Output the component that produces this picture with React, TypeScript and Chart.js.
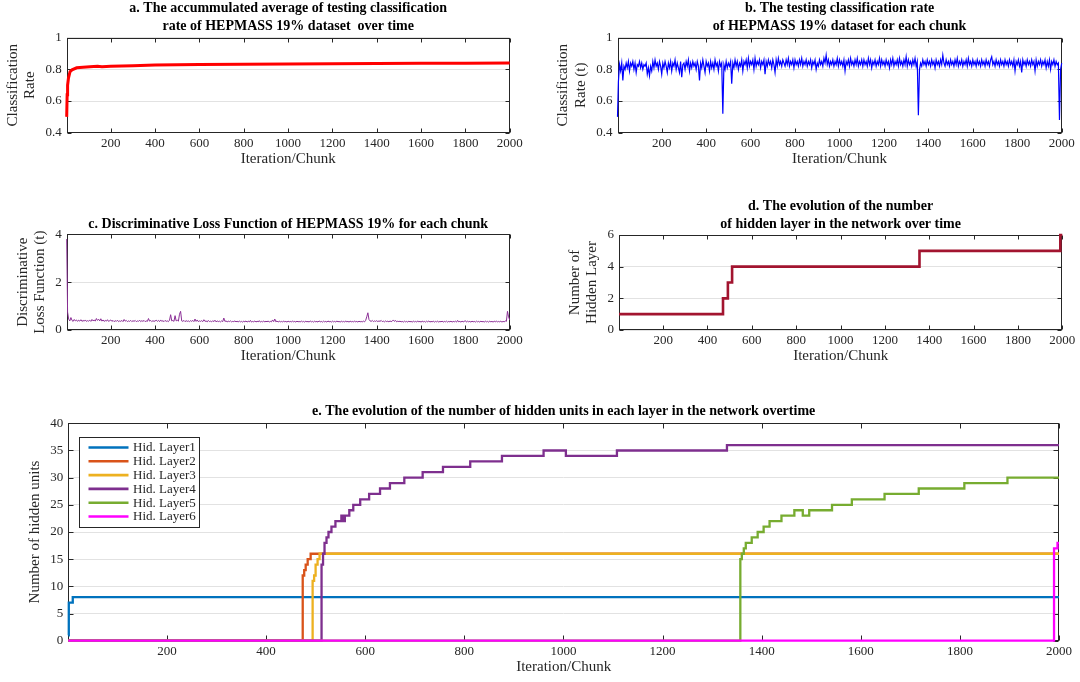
import React, { useEffect, useRef } from "react";
import { Chart, registerables } from "chart.js";

Chart.register(...registerables);

const FONT = "'Liberation Serif', 'Times New Roman', serif";
const INK = "#262626";
const GRID = "#e2e2e2";

// ---------- shared axis ticks ----------
const xTickValues = [200, 400, 600, 800, 1000, 1200, 1400, 1600, 1800, 2000];
const rateTicks = [0.4, 0.6, 0.8, 1];
const lossTicks = [0, 2, 4];
const layerTicks = [0, 2, 4, 6];
const unitTicks = [0, 5, 10, 15, 20, 25, 30, 35, 40];

// ---------- panel a: accumulated average classification rate ----------
const aChunks = [1, 3, 5, 9, 16, 25, 46, 75, 106, 140, 160, 200, 300, 400, 600, 800, 1000, 1200, 1400, 1600, 1800, 2000];
const aRate = [0.5, 0.64, 0.7, 0.745, 0.785, 0.797, 0.81, 0.814, 0.817, 0.819, 0.816, 0.819, 0.823, 0.827, 0.83, 0.832, 0.834, 0.836, 0.837, 0.838, 0.839, 0.84];

// ---------- panel b: testing classification rate per chunk (chunk 1, then every 5 chunks) ----------
const bFirstRate = 0.5;
const bChunkStep = 5;
const bRate = [
  0.72, 0.83, 0.79, 0.84, 0.73, 0.82, 0.80, 0.84, 0.81, 0.85,
  0.79, 0.84, 0.82, 0.85, 0.80, 0.84, 0.78, 0.83, 0.82, 0.85,
  0.81, 0.84, 0.80, 0.83, 0.82, 0.84, 0.77, 0.81, 0.76, 0.82,
  0.79, 0.85, 0.81, 0.86, 0.82, 0.84, 0.80, 0.85, 0.82, 0.77,
  0.84, 0.81, 0.85, 0.82, 0.78, 0.84, 0.81, 0.85, 0.79, 0.84,
  0.82, 0.86, 0.80, 0.84, 0.81, 0.78, 0.85, 0.75, 0.83, 0.84,
  0.80, 0.85, 0.82, 0.86, 0.79, 0.84, 0.81, 0.85, 0.82, 0.84,
  0.80, 0.85, 0.82, 0.73, 0.84, 0.81, 0.86, 0.82, 0.78, 0.85,
  0.82, 0.84, 0.79, 0.85, 0.81, 0.84, 0.80, 0.86, 0.82, 0.84,
  0.79, 0.85, 0.82, 0.84, 0.52, 0.83, 0.80, 0.85, 0.81, 0.84,
  0.82, 0.85, 0.71, 0.84, 0.81, 0.86, 0.82, 0.85, 0.80, 0.84,
  0.82, 0.86, 0.79, 0.85, 0.83, 0.86, 0.81, 0.87, 0.82, 0.85,
  0.83, 0.86, 0.80, 0.87, 0.82, 0.85, 0.83, 0.86, 0.81, 0.85,
  0.83, 0.86, 0.77, 0.85, 0.82, 0.86, 0.83, 0.85, 0.81, 0.86,
  0.83, 0.78, 0.86, 0.82, 0.87, 0.83, 0.85, 0.82, 0.86, 0.84,
  0.82, 0.86, 0.83, 0.87, 0.82, 0.85, 0.83, 0.86, 0.81, 0.86,
  0.83, 0.85, 0.82, 0.86, 0.83, 0.87, 0.82, 0.85, 0.83, 0.86,
  0.82, 0.85, 0.83, 0.86, 0.81, 0.85, 0.83, 0.86, 0.80, 0.84,
  0.82, 0.86, 0.83, 0.85, 0.82, 0.87, 0.84, 0.89, 0.83, 0.86,
  0.82, 0.85, 0.83, 0.86, 0.82, 0.85, 0.83, 0.87, 0.82, 0.86,
  0.83, 0.85, 0.82, 0.86, 0.79, 0.85, 0.83, 0.86, 0.82, 0.87,
  0.83, 0.85, 0.82, 0.86, 0.83, 0.87, 0.82, 0.85, 0.83, 0.86,
  0.82, 0.86, 0.83, 0.85, 0.82, 0.87, 0.83, 0.86, 0.81, 0.85,
  0.83, 0.86, 0.82, 0.85, 0.83, 0.87, 0.82, 0.86, 0.83, 0.85,
  0.82, 0.86, 0.83, 0.85, 0.81, 0.86, 0.83, 0.87, 0.82, 0.85,
  0.83, 0.86, 0.82, 0.87, 0.83, 0.85, 0.82, 0.86, 0.83, 0.88,
  0.82, 0.86, 0.83, 0.85, 0.82, 0.86, 0.83, 0.87, 0.82, 0.85,
  0.51, 0.80, 0.84, 0.82, 0.86, 0.83, 0.85, 0.82, 0.86, 0.83,
  0.85, 0.82, 0.86, 0.83, 0.85, 0.81, 0.86, 0.83, 0.85, 0.82,
  0.86, 0.83, 0.89, 0.84, 0.82, 0.86, 0.83, 0.85, 0.82, 0.86,
  0.83, 0.85, 0.82, 0.86, 0.83, 0.87, 0.82, 0.85, 0.83, 0.86,
  0.82, 0.85, 0.83, 0.86, 0.82, 0.87, 0.83, 0.85, 0.82, 0.86,
  0.83, 0.85, 0.82, 0.86, 0.83, 0.85, 0.82, 0.86, 0.83, 0.85,
  0.82, 0.86, 0.83, 0.85, 0.82, 0.86, 0.88, 0.83, 0.85, 0.82,
  0.86, 0.83, 0.85, 0.82, 0.86, 0.83, 0.85, 0.82, 0.86, 0.83,
  0.85, 0.82, 0.86, 0.83, 0.85, 0.82, 0.86, 0.79, 0.85, 0.83,
  0.86, 0.82, 0.85, 0.78, 0.86, 0.83, 0.85, 0.82, 0.86, 0.83,
  0.85, 0.82, 0.86, 0.83, 0.85, 0.79, 0.86, 0.82, 0.85, 0.83,
  0.86, 0.82, 0.85, 0.83, 0.86, 0.81, 0.85, 0.82, 0.86, 0.80,
  0.85, 0.83, 0.86, 0.82, 0.85, 0.83, 0.84, 0.48, 0.80, 0.84,
];

// ---------- panel c: discriminative loss per chunk (chunk 1, then every 5 chunks) ----------
const cFirstLoss = 3.8;
const cChunkStep = 5;
const cLoss = [
  0.75, 0.45, 0.38, 0.52, 0.40, 0.36, 0.44, 0.38, 0.42, 0.36,
  0.41, 0.37, 0.43, 0.36, 0.40, 0.37, 0.42, 0.36, 0.39, 0.37,
  0.41, 0.36, 0.44, 0.38, 0.42, 0.37, 0.48, 0.40, 0.45, 0.38,
  0.47, 0.37, 0.42, 0.36, 0.40, 0.37, 0.43, 0.36, 0.39, 0.42,
  0.36, 0.40, 0.35, 0.39, 0.36, 0.41, 0.35, 0.38, 0.36, 0.40,
  0.35, 0.44, 0.37, 0.40, 0.35, 0.38, 0.36, 0.40, 0.35, 0.39,
  0.36, 0.40, 0.35, 0.38, 0.36, 0.41, 0.35, 0.39, 0.36, 0.40,
  0.35, 0.38, 0.36, 0.48, 0.37, 0.40, 0.35, 0.39, 0.36, 0.38,
  0.41, 0.36, 0.40, 0.35, 0.42, 0.36, 0.39, 0.35, 0.40, 0.36,
  0.38, 0.35, 0.41, 0.64, 0.38, 0.40, 0.36, 0.60, 0.38, 0.41,
  0.37, 0.66, 0.78, 0.38, 0.36, 0.40, 0.35, 0.39, 0.36, 0.38,
  0.35, 0.39, 0.36, 0.40, 0.35, 0.46, 0.36, 0.42, 0.35, 0.38,
  0.36, 0.39, 0.35, 0.43, 0.36, 0.38, 0.34, 0.40, 0.35, 0.37,
  0.34, 0.39, 0.35, 0.41, 0.34, 0.38, 0.35, 0.37, 0.34, 0.38,
  0.35, 0.50, 0.36, 0.38, 0.34, 0.37, 0.35, 0.38, 0.34, 0.36,
  0.35, 0.38, 0.34, 0.37, 0.33, 0.38, 0.34, 0.36, 0.33, 0.37,
  0.34, 0.38, 0.33, 0.37, 0.34, 0.40, 0.33, 0.36, 0.34, 0.38,
  0.33, 0.37, 0.34, 0.39, 0.33, 0.36, 0.34, 0.38, 0.33, 0.37,
  0.34, 0.38, 0.33, 0.36, 0.34, 0.42, 0.35, 0.46, 0.34, 0.38,
  0.33, 0.37, 0.34, 0.36, 0.33, 0.38, 0.34, 0.36, 0.33, 0.37,
  0.34, 0.36, 0.33, 0.38, 0.34, 0.36, 0.33, 0.37, 0.34, 0.36,
  0.33, 0.38, 0.34, 0.36, 0.33, 0.37, 0.34, 0.36, 0.33, 0.38,
  0.34, 0.36, 0.33, 0.37, 0.34, 0.36, 0.33, 0.38, 0.34, 0.36,
  0.33, 0.37, 0.34, 0.36, 0.33, 0.38, 0.34, 0.36, 0.33, 0.37,
  0.34, 0.36, 0.33, 0.38, 0.34, 0.36, 0.33, 0.37, 0.34, 0.36,
  0.33, 0.38, 0.34, 0.36, 0.33, 0.37, 0.34, 0.36, 0.33, 0.38,
  0.34, 0.36, 0.33, 0.37, 0.34, 0.36, 0.33, 0.38, 0.34, 0.40,
  0.55, 0.72, 0.44, 0.38, 0.36, 0.40, 0.35, 0.38, 0.36, 0.39,
  0.35, 0.38, 0.36, 0.40, 0.35, 0.37, 0.34, 0.38, 0.35, 0.37,
  0.34, 0.38, 0.35, 0.37, 0.42, 0.36, 0.40, 0.34, 0.37, 0.35,
  0.37, 0.34, 0.36, 0.33, 0.37, 0.34, 0.36, 0.33, 0.37, 0.34,
  0.36, 0.33, 0.37, 0.34, 0.36, 0.33, 0.38, 0.34, 0.36, 0.33,
  0.37, 0.34, 0.36, 0.33, 0.37, 0.34, 0.38, 0.33, 0.36, 0.34,
  0.37, 0.33, 0.36, 0.34, 0.37, 0.33, 0.36, 0.34, 0.37, 0.33,
  0.36, 0.34, 0.37, 0.33, 0.36, 0.34, 0.37, 0.33, 0.36, 0.34,
  0.37, 0.33, 0.40, 0.34, 0.36, 0.33, 0.37, 0.34, 0.36, 0.39,
  0.33, 0.37, 0.34, 0.36, 0.33, 0.37, 0.34, 0.36, 0.33, 0.37,
  0.34, 0.36, 0.33, 0.37, 0.34, 0.36, 0.33, 0.37, 0.34, 0.36,
  0.33, 0.37, 0.34, 0.36, 0.33, 0.37, 0.34, 0.38, 0.33, 0.36,
  0.34, 0.37, 0.33, 0.36, 0.34, 0.38, 0.36, 0.78, 0.55, 0.42,
];

// ---------- panel d: number of hidden layers (value holds from chunk until next change) ----------
const dChunks = [1, 470, 492, 511, 1356, 1991, 2000];
const dLayers = [1, 2, 3, 4, 5, 6, 6];

// ---------- panel e: hidden units per layer (value holds from chunk until next change) ----------
const eLabels = ["Hid. Layer1", "Hid. Layer2", "Hid. Layer3", "Hid. Layer4", "Hid. Layer5", "Hid. Layer6"];
const eColors = ["#0072BD", "#D95319", "#EDB120", "#7E2F8E", "#77AC30", "#FF00FF"];
const l1Chunks = [1, 2, 10, 2000];
const l1Units = [1, 7, 8, 8];
const l2Chunks = [1, 474, 477, 480, 484, 490, 2000];
const l2Units = [0, 12, 13, 14, 15, 16, 16];
const l3Chunks = [1, 494, 497, 500, 504, 508, 2000];
const l3Units = [0, 11, 12, 14, 15, 16, 16];
const l4Chunks = [1, 512, 515, 518, 522, 526, 532, 540, 552, 556, 559, 568, 576, 590, 608, 630, 650, 679, 716, 757, 812, 876, 960, 1005, 1108, 1330, 2000];
const l4Units = [0, 14, 16, 18, 19, 20, 21, 22, 23, 22, 23, 24, 25, 26, 27, 28, 29, 30, 31, 32, 33, 34, 35, 34, 35, 36, 36];
const l5Chunks = [1, 1357, 1360, 1364, 1368, 1380, 1392, 1404, 1416, 1440, 1466, 1483, 1496, 1542, 1582, 1648, 1717, 1809, 1896, 2000];
const l5Units = [0, 15, 16, 17, 18, 19, 20, 21, 22, 23, 24, 23, 24, 25, 26, 27, 28, 29, 30, 30];
const l6Chunks = [1, 1990, 1997, 2000];
const l6Units = [0, 17, 18, 18];

const eSeriesChunks = [l1Chunks, l2Chunks, l3Chunks, l4Chunks, l5Chunks, l6Chunks];
const eSeriesUnits = [l1Units, l2Units, l3Units, l4Units, l5Units, l6Units];

// ---------- helpers ----------
const pairs = (xs: number[], ys: number[]) => xs.map((x, i) => ({ x, y: ys[i] }));
const evenPairs = (first: number, step: number, ys: number[]) => [
  { x: 1, y: first },
  ...ys.map((y, i) => ({ x: (i + 1) * step, y })),
];

const boxPlugin = {
  id: "matlabBox",
  beforeDatasetsDraw(chart: any, _args: any, opts: any) {
    const { ctx, chartArea } = chart;
    const { left, right, top, bottom } = chartArea;
    const tl = opts.tickLength ?? 4;
    ctx.save();
    ctx.strokeStyle = INK;
    ctx.lineWidth = 1;
    const L = Math.round(left) + 0.5;
    const R = Math.round(right) - 0.5;
    const T = Math.round(top) + 0.5;
    const B = Math.round(bottom) - 0.5;
    ctx.strokeRect(L, T, R - L, B - T);
    ctx.beginPath();
    const xs = chart.scales.x;
    xs.ticks.forEach((t: any) => {
      const px = Math.round(xs.getPixelForValue(t.value)) + 0.5;
      ctx.moveTo(px, B);
      ctx.lineTo(px, B - tl);
      ctx.moveTo(px, T);
      ctx.lineTo(px, T + tl);
    });
    const ys = chart.scales.y;
    ys.ticks.forEach((t: any) => {
      const py = Math.round(ys.getPixelForValue(t.value)) + 0.5;
      ctx.moveTo(L, py);
      ctx.lineTo(L + tl, py);
      ctx.moveTo(R, py);
      ctx.lineTo(R - tl, py);
    });
    ctx.stroke();
    ctx.restore();
  },
};

const legendBoxPlugin = {
  id: "legendBox",
  afterDatasetsDraw(chart: any, _args: any, opts: any) {
    if (!opts || !opts.show) return;
    const { ctx, chartArea } = chart;
    const x = Math.round(chartArea.left + 11) + 0.5;
    const y = Math.round(chartArea.top + 14) + 0.5;
    const w = 120;
    const h = 90;
    ctx.save();
    ctx.fillStyle = "#ffffff";
    ctx.fillRect(x, y, w, h);
    ctx.strokeStyle = INK;
    ctx.lineWidth = 1;
    ctx.strokeRect(x, y, w, h);
    ctx.font = `13px ${FONT}`;
    ctx.textBaseline = "middle";
    ctx.textAlign = "left";
    chart.data.datasets.forEach((ds: any, i: number) => {
      const cy = y + 10 + i * 13.8;
      ctx.strokeStyle = ds.borderColor;
      ctx.lineWidth = 2.6;
      ctx.beginPath();
      ctx.moveTo(x + 9, cy);
      ctx.lineTo(x + 49, cy);
      ctx.stroke();
      ctx.fillStyle = INK;
      ctx.fillText(ds.label, x + 53.5, cy + 0.5);
    });
    ctx.restore();
  },
};

type PanelCfg = {
  datasets: any[];
  title: string | string[];
  titlePad: { top: number; bottom: number };
  yMin: number;
  yMax: number;
  yTicks: number[];
  yTitle: string | string[];
  yTitlePad: number;
  yWidth: number;
  xHeight: number;
  xTickPad: number;
  xTitlePad: number;
  padRight: number;
  tickLength: number;
  legend?: boolean;
};

function makeConfig(c: PanelCfg): any {
  return {
    type: "line",
    data: { datasets: c.datasets },
    plugins: [boxPlugin, legendBoxPlugin],
    options: {
      responsive: false,
      animation: false,
      devicePixelRatio: 1,
      layout: { padding: { left: 0, right: c.padRight, top: 0, bottom: 0 } },
      elements: { point: { radius: 0 }, line: { tension: 0 } },
      plugins: {
        legend: { display: false },
        tooltip: { enabled: false },
        title: {
          display: true,
          text: c.title,
          fullSize: false,
          color: "#000",
          font: { family: FONT, size: 14, weight: "bold", lineHeight: 17.3 / 14 },
          padding: c.titlePad,
        },
        matlabBox: { tickLength: c.tickLength },
        legendBox: { show: !!c.legend },
      },
      scales: {
        x: {
          type: "linear",
          min: 1,
          max: 2000,
          afterBuildTicks: (s: any) => {
            s.ticks = xTickValues.map((v) => ({ value: v }));
          },
          afterFit: (s: any) => {
            s.height = c.xHeight;
          },
          grid: { display: false, drawTicks: false },
          border: { display: false },
          ticks: {
            autoSkip: false,
            maxRotation: 0,
            padding: c.xTickPad,
            color: INK,
            font: { family: FONT, size: 13 },
            callback: (v: any) => String(v),
          },
          title: {
            display: true,
            text: "Iteration/Chunk",
            color: INK,
            font: { family: FONT, size: 15, lineHeight: 1.2 },
            padding: { top: 0, bottom: c.xTitlePad },
          },
        },
        y: {
          type: "linear",
          min: c.yMin,
          max: c.yMax,
          afterBuildTicks: (s: any) => {
            s.ticks = c.yTicks.map((v) => ({ value: v }));
          },
          afterFit: (s: any) => {
            s.width = c.yWidth;
          },
          grid: { color: GRID, lineWidth: 1, drawTicks: false },
          border: { display: false },
          ticks: {
            padding: 5,
            color: INK,
            font: { family: FONT, size: 13 },
            callback: (v: any) => String(v),
          },
          title: {
            display: true,
            text: c.yTitle,
            color: INK,
            font: { family: FONT, size: 15, lineHeight: 17.3 / 15 },
            padding: { top: c.yTitlePad, bottom: 0 },
          },
        },
      },
    },
  };
}

const lineDs = (label: string, data: any[], color: string, width: number, extra: any = {}) => ({
  label,
  data,
  borderColor: color,
  backgroundColor: color,
  borderWidth: width,
  pointRadius: 0,
  fill: false,
  clip: false,
  ...extra,
});

function Panel({ left, top, width, height, build }: { left: number; top: number; width: number; height: number; build: () => any }) {
  const ref = useRef<HTMLCanvasElement>(null);
  useEffect(() => {
    if (!ref.current) return;
    const chart = new Chart(ref.current, build());
    return () => chart.destroy();
  }, []);
  return (
    <canvas
      ref={ref}
      width={width}
      height={height}
      style={{ position: "absolute", left, top, width, height, display: "block" }}
    />
  );
}

const buildA = () =>
  makeConfig({
    datasets: [lineDs("a", pairs(aChunks, aRate), "#FF0000", 3)],
    title: ["a. The accummulated average of testing classification", "rate of HEPMASS 19% dataset  over time"],
    titlePad: { top: 0, bottom: 3.1 },
    yMin: 0.4,
    yMax: 1,
    yTicks: rateTicks,
    yTitle: ["Classification", "Rate"],
    yTitlePad: 4,
    yWidth: 66.7,
    xHeight: 42.3,
    xTickPad: 3,
    xTitlePad: 7,
    padRight: 30.3,
    tickLength: 4,
  });

const buildB = () =>
  makeConfig({
    datasets: [lineDs("b", evenPairs(bFirstRate, bChunkStep, bRate), "#0000FF", 1.2)],
    title: ["b. The testing classification rate", "of HEPMASS 19% dataset for each chunk"],
    titlePad: { top: 0, bottom: 3.1 },
    yMin: 0.4,
    yMax: 1,
    yTicks: rateTicks,
    yTitle: ["Classification", "Rate (t)"],
    yTitlePad: 14.7,
    yWidth: 77.5,
    xHeight: 42.3,
    xTickPad: 3,
    xTitlePad: 7,
    padRight: 18.3,
    tickLength: 4,
  });

const buildC = () =>
  makeConfig({
    datasets: [lineDs("c", evenPairs(cFirstLoss, cChunkStep, cLoss), "#8B2F96", 1)],
    title: "c. Discriminative Loss Function of HEPMASS 19% for each chunk",
    titlePad: { top: 25.65, bottom: 1.35 },
    yMin: 0,
    yMax: 4,
    yTicks: lossTicks,
    yTitle: ["Discriminative", "Loss Function (t)"],
    yTitlePad: 14,
    yWidth: 66.7,
    xHeight: 40,
    xTickPad: 3,
    xTitlePad: 5,
    padRight: 30.3,
    tickLength: 4,
  });

const buildD = () =>
  makeConfig({
    datasets: [lineDs("d", pairs(dChunks, dLayers), "#A2142F", 2.6, { stepped: true })],
    title: ["d. The evolution of the number", "of hidden layer in the network over time"],
    titlePad: { top: 8.05, bottom: 2.35 },
    yMin: 0,
    yMax: 6,
    yTicks: layerTicks,
    yTitle: ["Number of", "Hidden Layer"],
    yTitlePad: 26.35,
    yWidth: 79,
    xHeight: 40,
    xTickPad: 3,
    xTitlePad: 5,
    padRight: 17.7,
    tickLength: 4,
  });

const buildE = () =>
  makeConfig({
    datasets: eLabels.map((label, i) =>
      lineDs(label, pairs(eSeriesChunks[i], eSeriesUnits[i]), eColors[i], 2.3, {
        stepped: true,
        order: eLabels.length - i,
      })
    ),
    title: "e. The evolution of the number of hidden units in each layer in the network overtime",
    titlePad: { top: 7.35, bottom: 3.65 },
    yMin: 0,
    yMax: 40,
    yTicks: unitTicks,
    yTitle: "Number of hidden units",
    yTitlePad: 26.35,
    yWidth: 68.3,
    xHeight: 41.3,
    xTickPad: 3.2,
    xTitlePad: 6.3,
    padRight: 21,
    tickLength: 5,
    legend: true,
  });

export default function App() {
  return (
    <div
      style={{
        position: "fixed",
        left: 0,
        top: 0,
        width: 1080,
        height: 682,
        background: "#ffffff",
        overflow: "hidden",
      }}
    >
      <Panel left={0} top={0} width={540} height={175} build={buildA} />
      <Panel left={540} top={0} width={540} height={175} build={buildB} />
      <Panel left={0} top={190} width={540} height={180} build={buildC} />
      <Panel left={540} top={190} width={540} height={180} build={buildD} />
      <Panel left={0} top={395} width={1080} height={287} build={buildE} />
    </div>
  );
}
